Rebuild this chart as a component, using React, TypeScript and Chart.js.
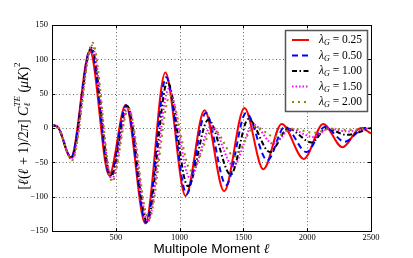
import { useEffect, useRef } from 'react';
import { Chart, registerables } from 'chart.js';

Chart.register(...registerables);

// ---- data ----
const lambdaLabels = ['0.25', '0.50', '1.00', '1.50', '2.00'];

const ell025 = [2, 45, 148, 297, 448, 578, 732, 888, 1047, 1195, 1349, 1508, 1656, 1800, 1974, 2125, 2276, 2420, 2500];
const te025 = [4, 1.5, -43, 112, -69, 34, -139, 81, -99, 26, -92, 29, -60, 6, -45, 6, -28, 0, -8];

const ell050 = [2, 45, 150, 302, 455, 582, 738, 895, 1055, 1205, 1365, 1521, 1688, 1825, 1995, 2138, 2294, 2450, 2500];
const te050 = [4, 1.5, -43, 115, -70, 33, -138, 74, -96, 22, -83, 22, -47, 2, -35, 1.5, -20, 0, 0];

const ell100 = [2, 45, 152, 308, 462, 590, 745, 905, 1065, 1225, 1401, 1539, 1708, 1851, 2034, 2150, 2310, 2500];
const te100 = [4, 1.5, -44, 117, -71, 32, -137, 67, -85, 12, -68, 13, -35, -1, -21, -1, -10, 0];

const ell150 = [2, 45, 155, 313, 468, 596, 752, 915, 1080, 1250, 1420, 1578, 1734, 1870, 2047, 2170, 2320, 2500];
const te150 = [4, 1.5, -46, 120, -75, 30, -136, 57, -72, 3, -55, 5, -23, -2, -13, -1, -5, 0];

const ell200 = [2, 45, 158, 318, 472, 600, 758, 925, 1090, 1265, 1430, 1590, 1747, 1880, 2060, 2180, 2330, 2500];
const te200 = [4, 1.5, -47, 124, -78, 28, -133, 47, -62, -2, -41, 2, -13, -1, -7, -1, -3, 0];

const xTickValues = [0, 500, 1000, 1500, 2000, 2500];
const yTickValues = [-150, -100, -50, 0, 50, 100, 150];

const seriesEll = [ell025, ell050, ell100, ell150, ell200];
const seriesTe = [te025, te050, te100, te150, te200];

// ---- styles ----
const colors = ['#ff0000', '#0000ff', '#000000', '#ff00ff', '#8c8c00'];
const dashes: number[][] = [[], [6, 4], [5, 2.5, 1.5, 2.5], [1.5, 2], [2, 4]];

const SERIF = '"Liberation Serif", "DejaVu Serif", serif';
const SANS = '"Liberation Sans", Arial, sans-serif';

type Seg = { t: string; it?: boolean; size?: number; dy?: number; noAdv?: boolean };

function segFont(s: Seg, base: number) {
  return `${s.it ? 'italic ' : ''}${s.size ?? base}px ${SERIF}`;
}
function measureSegs(ctx: CanvasRenderingContext2D, segs: Seg[], base: number) {
  let w = 0;
  let pending = 0;
  for (const s of segs) {
    ctx.font = segFont(s, base);
    const m = ctx.measureText(s.t).width;
    if (s.noAdv) { pending = Math.max(pending, m); continue; }
    w += Math.max(m, pending);
    pending = 0;
  }
  return w + pending;
}
function drawSegs(ctx: CanvasRenderingContext2D, segs: Seg[], x: number, y: number, base: number) {
  let cx = x;
  let pending = 0;
  for (const s of segs) {
    ctx.font = segFont(s, base);
    const m = ctx.measureText(s.t).width;
    ctx.fillText(s.t, cx, y + (s.dy ?? 0));
    if (s.noAdv) { pending = Math.max(pending, m); continue; }
    cx += Math.max(m, pending);
    pending = 0;
  }
}

const decor = {
  id: 'decor',
  beforeDatasetsDraw(chart: any) {
    const { ctx, chartArea: a, scales } = chart;
    const x = scales.x, y = scales.y;
    ctx.save();
    ctx.strokeStyle = '#666';
    ctx.lineWidth = 1;
    ctx.setLineDash([1, 2.5]);
    for (const v of xTickValues) {
      if (v <= 0 || v >= 2500) continue;
      const px = Math.round(x.getPixelForValue(v)) + 0.5;
      ctx.beginPath(); ctx.moveTo(px, a.top); ctx.lineTo(px, a.bottom); ctx.stroke();
    }
    for (const v of yTickValues) {
      if (v <= -150 || v >= 150) continue;
      const py = Math.round(y.getPixelForValue(v)) + 0.5;
      ctx.beginPath(); ctx.moveTo(a.left, py); ctx.lineTo(a.right, py); ctx.stroke();
    }
    ctx.restore();
  },
  afterDraw(chart: any) {
    const { ctx, chartArea: a, scales } = chart;
    const x = scales.x, y = scales.y;
    ctx.save();
    // frame
    ctx.strokeStyle = '#000';
    ctx.lineWidth = 1;
    ctx.setLineDash([]);
    ctx.strokeRect(Math.round(a.left) + 0.5, Math.round(a.top) + 0.5, Math.round(a.right - a.left), Math.round(a.bottom - a.top));
    // inward ticks
    for (const v of xTickValues) {
      const px = Math.round(x.getPixelForValue(v)) + 0.5;
      ctx.beginPath();
      ctx.moveTo(px, a.bottom); ctx.lineTo(px, a.bottom - 3);
      ctx.moveTo(px, a.top); ctx.lineTo(px, a.top + 3);
      ctx.stroke();
    }
    for (const v of yTickValues) {
      const py = Math.round(y.getPixelForValue(v)) + 0.5;
      ctx.beginPath();
      ctx.moveTo(a.left, py); ctx.lineTo(a.left + 3, py);
      ctx.moveTo(a.right, py); ctx.lineTo(a.right - 3, py);
      ctx.stroke();
    }

    // legend
    const lx = 285.5, ly = 30.5, lw = 82, lh = 81;
    ctx.fillStyle = '#fff';
    ctx.fillRect(lx, ly, lw, lh);
    ctx.strokeStyle = '#555';
    ctx.lineWidth = 1.5;
    ctx.strokeRect(lx, ly, lw, lh);
    const rows = [40, 55.5, 71, 86.5, 102];
    lambdaLabels.forEach((lab, i) => {
      const ry = rows[i];
      ctx.strokeStyle = colors[i];
      ctx.lineWidth = 2;
      ctx.setLineDash(dashes[i]);
      ctx.beginPath(); ctx.moveTo(292, ry); ctx.lineTo(309, ry); ctx.stroke();
      ctx.setLineDash([]);
      ctx.fillStyle = '#000';
      ctx.textAlign = 'left';
      ctx.textBaseline = 'middle';
      drawSegs(ctx, [
        { t: 'λ', it: true },
        { t: 'G', it: true, size: 8, dy: 3 },
        { t: ' = ' + lab },
      ], 319, ry, 11.5);
    });

    // y title
    const ySegs: Seg[] = [
      { t: '[' }, { t: 'ℓ', it: true }, { t: '(' }, { t: 'ℓ', it: true }, { t: ' + 1)/2' }, { t: 'π', it: true }, { t: '] ' },
      { t: 'C', it: true }, { t: 'ℓ', it: true, size: 9, dy: 4, noAdv: true }, { t: 'TE', it: true, size: 9, dy: -6 },
      { t: ' (' }, { t: 'μK', it: true }, { t: ')' }, { t: '2', size: 9, dy: -6 },
    ];
    ctx.save();
    ctx.translate(24, 126);
    ctx.rotate(-Math.PI / 2);
    ctx.fillStyle = '#000';
    ctx.textAlign = 'left';
    ctx.textBaseline = 'middle';
    const yw = measureSegs(ctx, ySegs, 14);
    drawSegs(ctx, ySegs, -yw / 2, 0, 14);
    ctx.restore();

    // x title
    ctx.fillStyle = '#000';
    ctx.textBaseline = 'middle';
    ctx.textAlign = 'left';
    ctx.font = `13.5px ${SANS}`;
    const t1 = 'Multipole Moment ';
    const w1 = ctx.measureText(t1).width;
    ctx.font = `italic 13.5px ${SERIF}`;
    const w2 = ctx.measureText('ℓ').width;
    const sx = (a.left + a.right) / 2 - (w1 + w2) / 2;
    ctx.font = `13.5px ${SANS}`;
    ctx.fillText(t1, sx, 249);
    ctx.font = `italic 13.5px ${SERIF}`;
    ctx.fillText('ℓ', sx + w1, 249);
    ctx.restore();
  },
};

export default function App() {
  const ref = useRef<HTMLCanvasElement>(null);
  useEffect(() => {
    document.body.style.margin = '0';
    const canvas = ref.current!;
    const datasets = seriesEll.map((ells, i) => ({
      label: 'λG = ' + lambdaLabels[i],
      data: ells.map((l, j) => ({ x: l, y: seriesTe[i][j] })),
      borderColor: colors[i],
      backgroundColor: colors[i],
      borderWidth: 2,
      borderDash: dashes[i],
      pointRadius: 0,
      fill: false,
      cubicInterpolationMode: 'monotone' as const,
      order: 5 - i,
    }));
    const tickFont = { family: SERIF, size: 8.5 };
    const chart = new Chart(canvas, {
      type: 'line',
      data: { datasets },
      options: {
        animation: false,
        responsive: false,
        devicePixelRatio: 1,
        layout: { padding: { left: 0, top: 25, right: 42, bottom: 0 } },
        plugins: { legend: { display: false }, tooltip: { enabled: false } },
        scales: {
          x: {
            type: 'linear',
            min: 0,
            max: 2500,
            afterFit: (s: any) => { s.height = 27; },
            afterBuildTicks: (s: any) => { s.ticks = xTickValues.map((v) => ({ value: v })); },
            ticks: {
              color: '#000',
              font: tickFont,
              padding: 2,
              maxRotation: 0,
              autoSkip: false,
              callback: (v: any) => (v === 0 ? '' : String(v)),
            },
            grid: { display: false, drawTicks: false },
            border: { display: false },
          },
          y: {
            type: 'linear',
            min: -150,
            max: 150,
            afterFit: (s: any) => { s.width = 52; },
            afterBuildTicks: (s: any) => { s.ticks = yTickValues.map((v) => ({ value: v })); },
            ticks: {
              color: '#000',
              font: tickFont,
              padding: 4,
              autoSkip: false,
              callback: (v: any) => (v < 0 ? '\u2212' + Math.abs(v) : String(v)),
            },
            grid: { display: false, drawTicks: false },
            border: { display: false },
          },
        },
      },
      plugins: [decor],
    });
    return () => chart.destroy();
  }, []);
  return <canvas ref={ref} width={413} height={258} style={{ display: 'block', width: 413, height: 258 }} />;
}
